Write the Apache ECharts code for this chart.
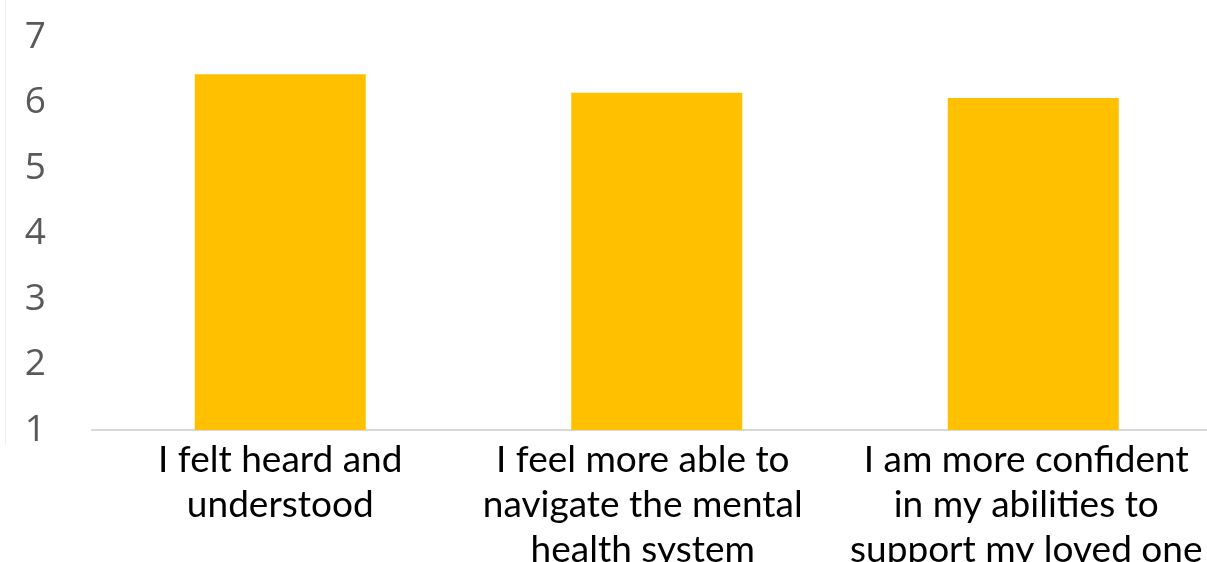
<!DOCTYPE html>
<html><head><meta charset="utf-8">
<script src="https://cdn.jsdelivr.net/npm/echarts@6/dist/echarts.min.js"></script>
<style>html,body{margin:0;padding:0;background:#fff}#c{width:1207px;height:562px}</style>
</head><body><div id="c"></div>
<script>
const categories = ["I felt heard and\nunderstood", "I feel more able to\nnavigate the mental\nhealth system", "I am more confident\nin my abilities to\nsupport my loved one"];
const values = [6.43, 6.15, 6.07];
const yMin = 1, yMax = 7, yInterval = 1;
// slight leftward shift of wrapped labels (as in the source rendering)
const labelShift = [0, 28, 14];

const chart = echarts.init(document.getElementById('c'));
chart.setOption({
  animation: false,
  grid: { left: 92, top: 37, bottom: 132, width: 1129.5, containLabel: false, outerBoundsMode: 'none' },
  xAxis: {
    type: 'category',
    data: categories.map((c, i) => ({ value: c, textStyle: { padding: [0, labelShift[i], 0, 0] } })),
    axisLine: { lineStyle: { color: '#d9d9d9', width: 2 } },
    axisTick: { show: false },
    axisLabel: { interval: 0, color: '#000', fontFamily: 'Lato', fontSize: 37, lineHeight: 45, margin: 8 }
  },
  yAxis: {
    type: 'value', min: yMin, max: yMax, interval: yInterval,
    axisLine: { show: false }, axisTick: { show: false }, splitLine: { show: false },
    axisLabel: { color: '#595959', fontFamily: 'Open Sans', fontSize: 37, margin: 46 }
  },
  series: [{ type: 'bar', data: values, barWidth: 171, itemStyle: { color: '#FFC000' } }],
  graphic: [{ type: 'line', shape: { x1: 5.5, y1: 0, x2: 5.5, y2: 445 }, style: { stroke: '#f0f0f0', lineWidth: 1 } }]
});
</script></body></html>
